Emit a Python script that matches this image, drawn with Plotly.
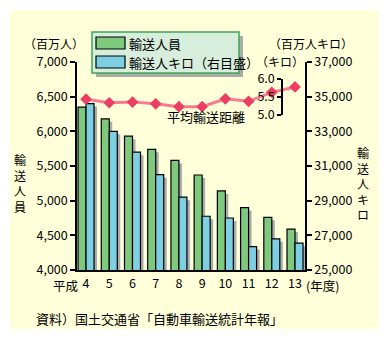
import plotly.graph_objects as go

# Fiscal years (Heisei era)
years = ["4", "5", "6", "7", "8", "9", "10", "11", "12", "13"]
# Passengers carried (million persons) - left axis
passengers = [6350, 6180, 5930, 5740, 5580, 5370, 5140, 4900, 4760, 4590]
# Passenger-km (million person-km) - right axis
passenger_km = [34600, 33000, 31800, 30500, 29200, 28100, 28000, 26350, 26800, 26550]
# Average trip length (km)
avg_distance = [5.44, 5.34, 5.36, 5.31, 5.23, 5.23, 5.45, 5.38, 5.63, 5.78]

W, H = 389, 339
L, R, T, B = 77, 84, 62, 69
PW, PH = W - L - R, H - T - B

def px(x):
    return (x - L) / PW

def py(y):
    return (H - B - y) / PH

FONT = "Noto Sans CJK JP"
GREEN = "#7FC97F"
BLUE = "#7ECFE1"
SHADOW = "#ABABAB"
BG = "#FFFFD9"

y1_range = [4000, 7000]
y2_range = [25000, 37000]
x_range = [-0.39, 9.43]
xpos = list(range(len(years)))

unit_px = PW / (x_range[1] - x_range[0])
bar_w = 8 / unit_px
sh_dx = 3 / unit_px
sh_dy1 = 3 * (y1_range[1] - y1_range[0]) / PH
sh_dy2 = 3 * (y2_range[1] - y2_range[0]) / PH

fig = go.Figure()

# green bars with drop shadow
fig.add_trace(go.Bar(x=xpos, y=[v - sh_dy1 for v in passengers], base=0,
                     offset=-bar_w + sh_dx, width=bar_w,
                     marker=dict(color=SHADOW, line=dict(width=0)),
                     yaxis="y", showlegend=False, hoverinfo="skip"))
fig.add_trace(go.Bar(x=xpos, y=passengers, offset=-bar_w, width=bar_w,
                     marker=dict(color=GREEN, line=dict(color="black", width=1.2)),
                     name="輸送人員", yaxis="y", showlegend=False))
# blue bars with drop shadow (right axis)
fig.add_trace(go.Bar(x=xpos, y=[v - sh_dy2 for v in passenger_km], base=0,
                     offset=sh_dx, width=bar_w,
                     marker=dict(color=SHADOW, line=dict(width=0)),
                     yaxis="y2", showlegend=False, hoverinfo="skip"))
fig.add_trace(go.Bar(x=xpos, y=passenger_km, offset=0, width=bar_w,
                     marker=dict(color=BLUE, line=dict(color="black", width=1.2)),
                     name="輸送人キロ（右目盛）", yaxis="y2", showlegend=False))
# average distance line on its own small scale
fig.add_trace(go.Scatter(x=xpos, y=avg_distance, mode="lines+markers",
                         xaxis="x2", yaxis="y3",
                         line=dict(color="#F77C8F", width=3),
                         marker=dict(symbol="diamond", size=9, color="#EE3D63"),
                         cliponaxis=False, showlegend=False, name="平均輸送距離"))

tickfont = dict(family=FONT, size=12.5, color="black")

fig.update_layout(
    width=W, height=H,
    margin=dict(l=L, r=R, t=T, b=B, pad=0),
    paper_bgcolor="white",
    plot_bgcolor="rgba(0,0,0,0)",
    font=dict(family=FONT, size=13, color="black"),
    barmode="overlay",
    xaxis=dict(range=x_range, tickmode="array", tickvals=xpos, ticktext=years,
               showgrid=False, zeroline=False, showline=True, linecolor="black",
               linewidth=1.5, ticks="", tickfont=tickfont, fixedrange=True,
               ticklabelstandoff=1),
    xaxis2=dict(range=x_range, overlaying="x", visible=False, anchor="y3"),
    yaxis=dict(range=y1_range, tick0=4000, dtick=500, tickformat=",d",
               showgrid=False, zeroline=False, showline=True, linecolor="black",
               linewidth=1.5, ticks="outside", ticklen=5, tickwidth=1.5,
               tickcolor="black", tickfont=tickfont),
    yaxis2=dict(range=y2_range, tick0=25000, dtick=2000, tickformat=",d",
                overlaying="y", side="right", showgrid=False, zeroline=False,
                showline=True, linecolor="black", linewidth=1.5, ticks="outside",
                ticklen=5, tickwidth=1.5, tickcolor="black", tickfont=tickfont),
    yaxis3=dict(domain=[py(115), py(79)], range=[5.0, 6.0], anchor="free",
                position=px(282), side="left", tickvals=[5.0, 5.5, 6.0],
                ticktext=["5.0", "5.5", "6.0"], showgrid=False, zeroline=False,
                showline=True, linecolor="black", linewidth=1.5, ticks="outside",
                ticklen=4, tickwidth=1.5, tickcolor="black", tickfont=tickfont),
)

shapes = [
    # panel background
    dict(type="rect", xref="paper", yref="paper", x0=px(10), x1=px(379),
         y0=py(329), y1=py(10), fillcolor=BG, line=dict(width=0), layer="below"),
    # legend box shadow and frame
    dict(type="rect", xref="paper", yref="paper", x0=px(96), x1=px(243),
         y0=py(77), y1=py(36), fillcolor="#A9ADA4", line=dict(width=0)),
    dict(type="rect", xref="paper", yref="paper", x0=px(92), x1=px(239),
         y0=py(73), y1=py(32), fillcolor="#D8EEDC",
         line=dict(color="#3AA655", width=1.5)),
    dict(type="rect", xref="paper", yref="paper", x0=px(96), x1=px(125),
         y0=py(49), y1=py(37), fillcolor=GREEN, line=dict(color="black", width=1.2)),
    dict(type="rect", xref="paper", yref="paper", x0=px(96), x1=px(125),
         y0=py(68), y1=py(56), fillcolor=BLUE, line=dict(color="black", width=1.2)),
]
fig.update_layout(shapes=shapes)

def note(text, x, y, xanchor="center", size=13):
    return dict(text=text, x=px(x), y=py(y), xref="paper", yref="paper",
                xanchor=xanchor, yanchor="middle", showarrow=False,
                font=dict(family=FONT, size=size, color="black"))

annotations = [
    note("（百万人）", 54, 43, size=12),
    note("（百万人キロ）", 311, 43, size=12),
    note("（キロ）", 280, 61, size=12),
    note("輸<br>送<br>人<br>員", 20, 183, size=12),
    note("輸<br>送<br>人<br>キ<br>ロ", 363, 183, size=12),
    note("平均輸送距離", 206, 116),
    note("平成", 80, 285, xanchor="right", size=12.5),
    note("(年度)", 304, 285, xanchor="left", size=12.5),
    note("輸送人員", 127, 43, xanchor="left"),
    note("輸送人キロ（右目盛）", 127, 62, xanchor="left"),
    note("資料）国土交通省「自動車輸送統計年報」", 34, 318, xanchor="left"),
]
fig.update_layout(annotations=annotations)

fig.write_html("out.html")
